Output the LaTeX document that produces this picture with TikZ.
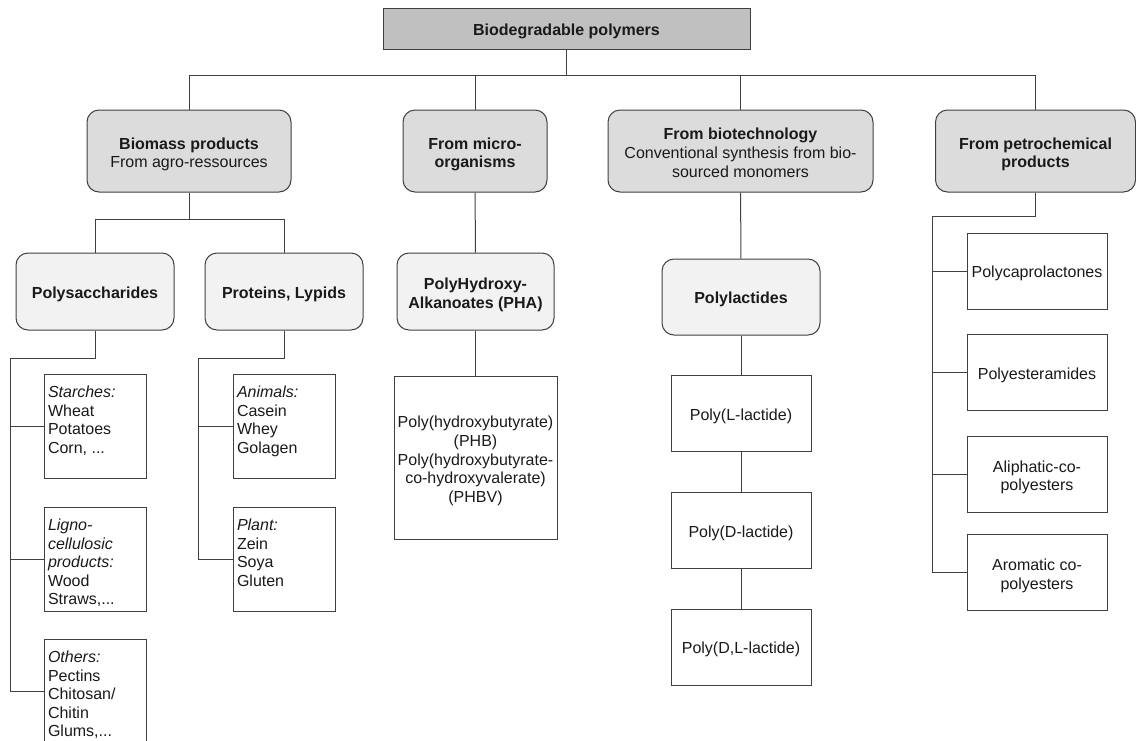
\documentclass[tikz,border=0pt]{standalone}
\usepackage{fontspec}
\setmainfont{Liberation Sans}
\newdimen\px \px=0.75pt
\definecolor{rootfill}{HTML}{C0C0C0}
\definecolor{groupfill}{HTML}{DCDCDC}
\definecolor{familyfill}{HTML}{F2F2F2}
\definecolor{linegray}{HTML}{404040}
\definecolor{txt}{HTML}{1A1A1A}
\newcommand{\leaftext}[1]{\parbox[t][89\px][t]{94\px}{\raggedright\rule{0pt}{14\px}#1}}
\newcommand{\headstrut}{\rule{0pt}{19\px}}
\begin{document}
\begin{tikzpicture}[x=0.75pt, y=-0.75pt, line width=1\px,
	every node/.style={font=\fontsize{12}{13.9}\selectfont, text=txt, align=center,
		execute at begin node={\rule{0pt}{17\px}}, execute at end node={\rule[-4\px]{0pt}{0pt}}},
	box/.style={draw=linegray, inner sep=0pt},
	rootbox/.style={box, fill=rootfill, minimum height=41\px},
	groupbox/.style={box, fill=groupfill, rounded corners=12\px, minimum height=82\px},
	familybox/.style={box, fill=familyfill, rounded corners=12\px, minimum width=158\px, minimum height=77\px},
	itembox/.style={box, fill=white, minimum width=140\px, minimum height=76\px},
	leafbox/.style={box, fill=white, inner xsep=4\px, inner ysep=6\px,
		execute at begin node={}, execute at end node={}},
	link/.style={draw=linegray}]
	\useasboundingbox (0,0) rectangle (1136,740);
	
	% 1. root and the four groups
	\node[rootbox, minimum width=367\px] (root) at (566.5,28.5) {\textbf{Biodegradable polymers}};
	\node[groupbox, minimum width=204\px] (biomass) at (189,151) {\headstrut\textbf{Biomass products}\\From agro-ressources};
	\node[groupbox, minimum width=144\px] (micro) at (475,151) {\headstrut\textbf{From micro-}\\\textbf{organisms}};
	\node[groupbox, minimum width=265\px] (biotech) at (740.5,151) {\headstrut\textbf{From biotechnology}\\Conventional synthesis from bio-\\sourced monomers};
	\node[groupbox, minimum width=200\px] (petro) at (1035.5,151) {\headstrut\textbf{From petrochemical}\\\textbf{products}};
	
	% 2. families
	\node[familybox] (polysac) at (95,291.5) {\textbf{Polysaccharides}};
	\node[familybox] (protein) at (284,291.5) {\textbf{Proteins, Lypids}};
	\node[familybox, minimum width=157\px] (pha) at (475.5,291.5) {\headstrut\textbf{PolyHydroxy-}\\\textbf{Alkanoates (PHA)}};
	\node[familybox, minimum height=76\px] (pla) at (741,297) {\textbf{Polylactides}};
	
	% 3. agro-resources
	\node[leafbox] (starch) at (95,426.5) {\leaftext{\textit{Starches:}\\Wheat\\Potatoes\\Corn, ...}};
	\node[leafbox] (ligno) at (95,559.5) {\leaftext{\textit{Ligno-}\\\textit{cellulosic}\\\textit{products:}\\Wood\\Straws,...}};
	\node[leafbox] (others) at (95,691.5) {\leaftext{\textit{Others:}\\Pectins\\Chitosan/\\Chitin\\Glums,...}};
	\node[leafbox] (animal) at (284,426.5) {\leaftext{\textit{Animals:}\\Casein\\Whey\\Golagen}};
	\node[leafbox] (plant) at (284,559.5) {\leaftext{\textit{Plant:}\\Zein\\Soya\\Gluten}};
	
	% 4. PHA, PLA and petrochemical items
	\node[box, minimum width=163\px, minimum height=163\px] (phb) at (475.5,457.5) {\headstrut Poly(hydroxybutyrate)\\(PHB)\\Poly(hydroxybutyrate-\\co-hydroxyvalerate)\\(PHBV)};
	\node[itembox] (plla) at (741,413.5) {Poly(L-lactide)};
	\node[itembox] (pdla) at (741,530.5) {Poly(D-lactide)};
	\node[itembox] (pdlla) at (741,647) {Poly(D,L-lactide)};
	\node[itembox] (pcl) at (1037,271) {Polycaprolactones};
	\node[itembox] (pea) at (1037,372.5) {Polyesteramides};
	\node[itembox] (aliph) at (1037,474) {\headstrut Aliphatic-co-\\polyesters};
	\node[itembox] (arom) at (1037,572.5) {\headstrut Aromatic co-\\polyesters};
	
	% 5. connectors
	\foreach \g in {biomass,micro,biotech,petro}
		\draw[link] (root.south) -- ++(0,26) -| (\g.north);
	\foreach \f in {polysac,protein}
		\draw[link] (biomass.south) -- ++(0,27) -| (\f.north);
	\draw[link] (micro) -- (pha);
	\draw[link] (pha) -- (phb);
	\draw[link] (biotech) -- (pla);
	\draw[link] (pla) -- (plla);
	\draw[link] (plla) -- (pdla);
	\draw[link] (pdla) -- (pdlla);
	
	\coordinate (railL) at (10,358);
	\draw[link] (polysac.south) |- (railL) -- (railL |- others.west) -- (others.west);
	\foreach \l in {starch,ligno}
		\draw[link] (railL |- \l.west) -- (\l.west);
	\coordinate (railM) at (198,358);
	\draw[link] (protein.south) |- (railM) -- (railM |- plant.west) -- (plant.west);
	\draw[link] (railM |- animal.west) -- (animal.west);
	\coordinate (railR) at (932,216);
	\draw[link] (petro.south) |- (railR) -- (railR |- arom.west) -- (arom.west);
	\foreach \p in {pcl,pea,aliph}
		\draw[link] (railR |- \p.west) -- (\p.west);
\end{tikzpicture}
\end{document}
